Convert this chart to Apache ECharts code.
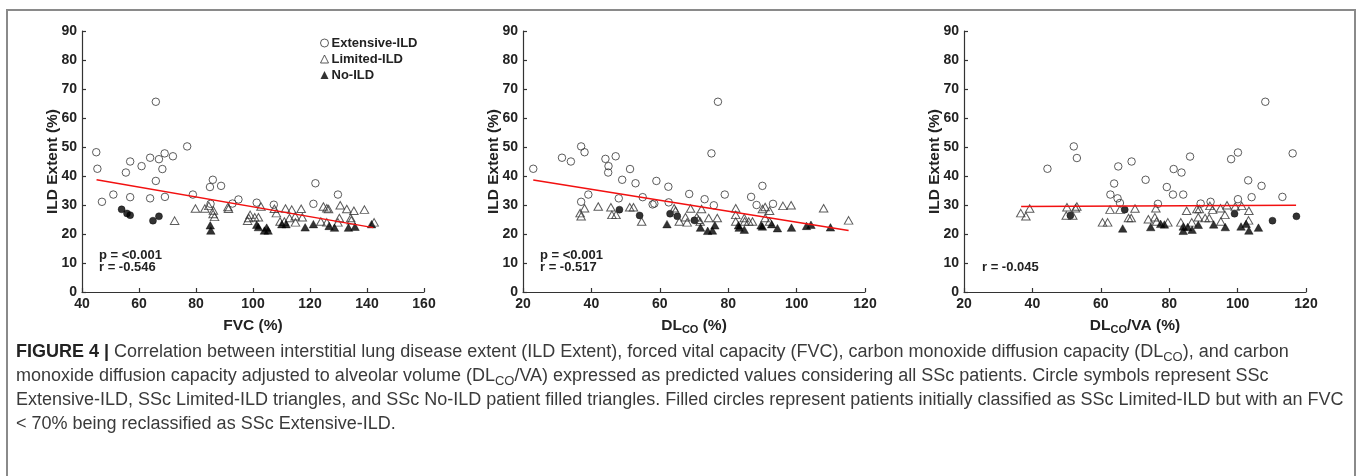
<!DOCTYPE html>
<html><head><meta charset="utf-8">
<script src="https://cdn.jsdelivr.net/npm/echarts@6/dist/echarts.min.js"></script>
<style>html,body{margin:0;padding:0;background:#fff}#c{width:1360px;height:476px}</style>
</head><body><div id="c"></div>
<script>
// ---------- axis ticks ----------
const yTicks = [0, 90, 10];            // min, max, interval of ILD Extent (%)
const xTicksFVC = [40, 160, 20];       // FVC (%)
const xTicksDLCO = [20, 120, 20];      // DLCO (%)
const xTicksDLVA = [20, 120, 20];      // DLCO/VA (%)
const legendNames = ['Extensive-ILD', 'Limited-ILD', 'No-ILD'];

// ---------- Panel 1: FVC (%) vs ILD Extent (%) ----------
const fvcExtensive = [[45.0,48.2],[45.4,42.5],[47.0,31.1],[51.0,33.6],[55.4,41.2],[56.9,45.0],[56.9,32.7],[60.9,43.4],[63.9,46.3],[63.9,32.3],[65.9,65.6],[65.9,38.3],[67.0,45.8],[68.2,42.4],[69.0,47.8],[69.1,32.8],[71.9,46.8],[76.9,50.2],[78.9,33.6],[84.9,36.2],[85.1,30.4],[85.9,38.7],[88.8,36.6],[92.8,30.5],[94.9,31.9],[101.3,30.8],[107.3,30.1],[121.2,30.4],[121.9,37.5],[129.8,33.6]];
const fvcReclassified = [[53.9,28.5],[55.8,27.1],[56.9,26.5],[64.9,24.6],[67.0,26.1]];
const fvcLimited = [[72.5,24.6],[79.8,28.8],[83.1,28.8],[84.5,29.7],[86.1,28.1],[86.5,25.9],[86.0,26.9],[91.2,29.3],[91.4,28.7],[98.1,24.6],[98.5,25.5],[99.0,26.6],[100.6,25.8],[101.9,25.8],[102.8,29.5],[107.5,28.7],[108.2,27.2],[109.5,24.3],[111.0,24.3],[111.4,28.8],[112.8,25.5],[113.6,28.4],[114.8,26.1],[114.9,24.0],[116.9,28.7],[117.3,25.8],[123.8,24.3],[124.7,29.5],[125.9,28.9],[126.5,28.6],[125.9,24.0],[129.8,24.0],[130.3,25.5],[130.6,29.9],[132.9,28.6],[134.3,25.5],[134.5,24.7],[135.4,28.0],[139.1,28.4],[142.5,24.0]];
const fvcNoILD = [[85.0,23.0],[85.2,21.2],[101.3,23.2],[101.9,22.4],[104.0,21.2],[104.8,22.2],[105.3,21.2],[110.1,23.4],[111.6,23.4],[118.3,22.3],[121.2,23.4],[126.7,22.8],[128.6,22.2],[133.5,22.2],[135.8,22.5],[141.6,23.4]];
const fvcFit = [[45.1,38.7],[142.2,22.2]];
const fvcStats = ['p = <0.001', 'r = -0.546'];

// ---------- Panel 2: DLCO (%) vs ILD Extent (%) ----------
const dlcoExtensive = [[23.0,42.5],[31.4,46.3],[34.0,45.0],[37.0,50.2],[38.0,48.2],[37.0,31.1],[39.1,33.6],[44.1,45.9],[45.0,43.4],[44.9,41.2],[47.1,46.8],[48.0,32.3],[49.0,38.7],[51.3,42.4],[52.9,37.5],[55.0,32.7],[57.9,30.2],[58.4,30.5],[59.0,38.3],[62.5,36.3],[62.6,30.9],[68.6,33.8],[73.1,32.0],[75.1,47.8],[75.8,29.9],[77.0,65.6],[79.0,33.6],[86.7,32.8],[88.3,30.0],[90.0,36.6],[93.1,30.4]];
const dlcoReclassified = [[48.2,28.4],[54.1,26.4],[63.0,27.0],[65.1,26.1],[70.1,24.7]];
const dlcoLimited = [[36.7,27.2],[37.0,26.1],[38.0,28.9],[42.0,29.5],[45.7,29.2],[46.0,26.6],[47.2,26.6],[51.2,29.2],[52.3,29.2],[54.7,24.3],[64.2,28.9],[64.6,28.0],[65.7,24.3],[67.5,25.8],[68.0,24.0],[69.0,28.8],[70.8,25.8],[71.3,24.9],[71.8,24.3],[72.2,28.6],[74.3,25.5],[76.8,25.5],[82.2,28.9],[82.2,26.6],[82.2,24.3],[84.7,25.5],[84.8,24.3],[86.0,24.3],[87.1,24.3],[90.0,28.6],[90.8,29.3],[90.8,25.5],[92.1,28.0],[92.1,24.3],[96.0,29.7],[98.4,29.9],[107.9,28.9],[115.2,24.7]];
const dlcoNoILD = [[62.1,23.4],[71.9,22.2],[74.0,21.1],[75.4,21.2],[76.1,23.0],[83.0,23.0],[83.2,22.2],[84.7,21.5],[89.6,23.0],[90.0,22.6],[92.7,23.4],[94.4,22.0],[98.5,22.2],[102.9,22.8],[104.2,23.2],[109.9,22.3]];
const dlcoFit = [[23.0,38.6],[115.2,21.2]];
const dlcoStats = ['p = <0.001', 'r = -0.517'];

// ---------- Panel 3: DLCO/VA (%) vs ILD Extent (%) ----------
const dlvaExtensive = [[44.4,42.5],[52.1,50.2],[53.0,46.2],[62.8,33.6],[63.9,37.4],[64.9,32.3],[65.1,43.3],[65.6,30.7],[69.0,45.0],[73.1,38.7],[76.7,30.4],[79.3,36.2],[81.1,33.6],[81.3,42.4],[83.6,41.2],[84.1,33.6],[86.1,46.7],[89.2,30.5],[92.1,31.1],[98.1,45.8],[100.1,48.1],[100.1,32.0],[103.1,38.5],[104.1,32.7],[107.0,36.6],[108.1,65.6],[113.1,32.8],[116.1,47.8]];
const dlvaReclassified = [[51.1,26.4],[67.0,28.4],[99.1,27.0],[110.2,24.6],[117.2,26.1]];
const dlvaLimited = [[36.6,27.2],[38.1,26.1],[39.2,28.8],[50.1,29.2],[49.9,26.4],[51.8,26.4],[52.6,28.9],[53.0,29.5],[60.5,24.0],[62.0,24.0],[62.7,28.4],[65.6,28.4],[68.1,25.5],[68.9,25.5],[70.0,28.8],[73.9,25.1],[75.8,25.8],[76.1,28.9],[76.3,24.3],[79.6,24.0],[83.4,24.0],[85.1,28.0],[86.6,24.0],[88.1,28.6],[88.8,28.6],[88.5,25.8],[90.5,25.5],[91.7,25.5],[91.9,29.7],[92.7,28.4],[95.0,28.9],[95.1,24.3],[96.3,26.6],[96.9,29.9],[99.3,29.5],[101.2,29.7],[103.2,24.7],[103.3,28.0]];
const dlvaNoILD = [[66.4,21.9],[74.6,22.4],[77.5,23.5],[78.6,23.3],[84.1,22.6],[84.1,21.1],[85.4,22.4],[86.7,21.5],[88.5,23.2],[93.0,23.3],[96.4,22.4],[101.0,22.6],[103.3,21.2],[102.5,23.5],[106.1,22.2]];
const dlvaFit = [[36.7,29.5],[117.1,29.9]];
const dlvaStats = ['r = -0.045'];

// ---------- caption ----------
const captionLines = [
  '{b|FIGURE 4 |} Correlation between interstitial lung disease extent (ILD Extent), forced vital capacity (FVC), carbon monoxide diffusion capacity (DL{s|CO}), and carbon',
  'monoxide diffusion capacity adjusted to alveolar volume (DL{s|CO}/VA) expressed as predicted values considering all SSc patients. Circle symbols represent SSc',
  'Extensive-ILD, SSc Limited-ILD triangles, and SSc No-ILD patient filled triangles. Filled circles represent patients initially classified as SSc Limited-ILD but with an FVC',
  '< 70% being reclassified as SSc Extensive-ILD.'
];

const FONT = "'Liberation Sans', Arial, Helvetica, sans-serif";
const CAPFONT = "'Liberation Sans', Arial, sans-serif";
const gridLefts = [82, 523, 964];
const panels = [
  {ticks: xTicksFVC, name: 'FVC (%)', ext: fvcExtensive, rec: fvcReclassified, lim: fvcLimited, no: fvcNoILD, fit: fvcFit, stats: fvcStats},
  {ticks: xTicksDLCO, name: 'DL{s|CO} (%)', ext: dlcoExtensive, rec: dlcoReclassified, lim: dlcoLimited, no: dlcoNoILD, fit: dlcoFit, stats: dlcoStats},
  {ticks: xTicksDLVA, name: 'DL{s|CO}/VA (%)', ext: dlvaExtensive, rec: dlvaReclassified, lim: dlvaLimited, no: dlvaNoILD, fit: dlvaFit, stats: dlvaStats}
];

const axisCommon = {
  axisLine: {lineStyle: {color: '#333', width: 1.2}},
  axisTick: {inside: true, length: 4, lineStyle: {color: '#333', width: 1.2}},
  splitLine: {show: false},
  axisLabel: {color: '#222', fontSize: 14, fontWeight: 'bold', fontFamily: FONT, margin: 5}
};

const grid = [], xAxis = [], yAxis = [], series = [], graphic = [];
panels.forEach((p, i) => {
  grid.push({left: gridLefts[i], top: 31, width: 342, height: 261});
  xAxis.push(Object.assign({}, axisCommon, {
    type: 'value', gridIndex: i, min: p.ticks[0], max: p.ticks[1], interval: p.ticks[2],
    name: p.name, nameLocation: 'middle', nameGap: 25, nameMoveOverlap: false,
    nameTextStyle: {color: '#222', fontSize: 15.5, fontWeight: 'bold', fontFamily: FONT, lineHeight: 18,
      rich: {s: {fontSize: 11, fontWeight: 'bold', fontFamily: FONT, color: '#222', lineHeight: 9, verticalAlign: 'bottom'}}}
  }));
  yAxis.push(Object.assign({}, axisCommon, {
    type: 'value', gridIndex: i, min: yTicks[0], max: yTicks[1], interval: yTicks[2],
    name: 'ILD Extent (%)', nameLocation: 'middle', nameGap: 21, nameRotate: 90, nameMoveOverlap: false,
    nameTextStyle: {color: '#222', fontSize: 15.5, fontWeight: 'bold', fontFamily: FONT}
  }));
  const open = {color: 'rgba(255,255,255,0)', borderColor: '#333', borderWidth: 1};
  const filled = {color: '#000', borderColor: '#000', borderWidth: 0.5};
  series.push({name: 'Extensive-ILD', type: 'scatter', xAxisIndex: i, yAxisIndex: i, data: p.ext, symbol: 'circle', symbolSize: 7.5, itemStyle: open, silent: true});
  series.push({name: 'Reclassified', type: 'scatter', xAxisIndex: i, yAxisIndex: i, data: p.rec, symbol: 'circle', symbolSize: 7, itemStyle: filled, silent: true});
  series.push({name: 'Limited-ILD', type: 'scatter', xAxisIndex: i, yAxisIndex: i, data: p.lim, symbol: 'triangle', symbolSize: [8.5, 7.5], itemStyle: open, silent: true});
  series.push({name: 'No-ILD', type: 'scatter', xAxisIndex: i, yAxisIndex: i, data: p.no, symbol: 'triangle', symbolSize: [8.5, 7.5], itemStyle: filled, silent: true});
  series.push({name: 'fit' + i, type: 'line', xAxisIndex: i, yAxisIndex: i, data: p.fit, symbol: 'none', silent: true,
    lineStyle: {color: '#f21010', width: 1.5}, z: 5});
  p.stats.forEach((t, k) => {
    const top = p.stats.length === 2 ? 249 + k * 12 : 261;
    graphic.push({type: 'text', left: gridLefts[i] + (i === 2 ? 18 : 17), top: top,
      style: {text: t, font: 'bold 13px ' + FONT, fill: '#222'}});
  });
});

// frame
graphic.push({type: 'rect', shape: {x: 7, y: 10, width: 1348, height: 480}, style: {fill: 'none', stroke: '#8a8a8a', lineWidth: 2}, silent: true});
// caption
const capRich = {
  b: {fontWeight: 'bold', fontSize: 18, fontFamily: CAPFONT, fill: '#222', lineHeight: 24},
  s: {fontSize: 13, fontFamily: CAPFONT, fill: '#3a3a3a', lineHeight: 14, verticalAlign: 'bottom'}
};
captionLines.forEach((line, k) => {
  graphic.push({type: 'text', left: 16, top: 340 + k * 24,
    style: {text: line, fontSize: 18, fontFamily: CAPFONT, fill: '#3a3a3a', lineHeight: 24, rich: capRich}});
});

const chart = echarts.init(document.getElementById('c'), null, {renderer: 'canvas'});
chart.setOption({
  backgroundColor: '#fff',
  animation: false,
  grid, xAxis, yAxis, series, graphic,
  legend: {
    left: 315, top: 31, orient: 'vertical', itemWidth: 8, itemHeight: 8, itemGap: 2,
    textStyle: {color: '#222', fontSize: 13, fontWeight: 'bold', fontFamily: FONT, lineHeight: 14, padding: [0, 0, 0, -2]},
    data: [
      {name: legendNames[0], icon: 'circle', itemStyle: {color: 'rgba(255,255,255,0)', borderColor: '#333', borderWidth: 1}},
      {name: legendNames[1], icon: 'triangle', itemStyle: {color: 'rgba(255,255,255,0)', borderColor: '#333', borderWidth: 1}},
      {name: legendNames[2], icon: 'triangle', itemStyle: {color: '#000', borderColor: '#000', borderWidth: 0}}
    ]
  }
});
</script></body></html>
